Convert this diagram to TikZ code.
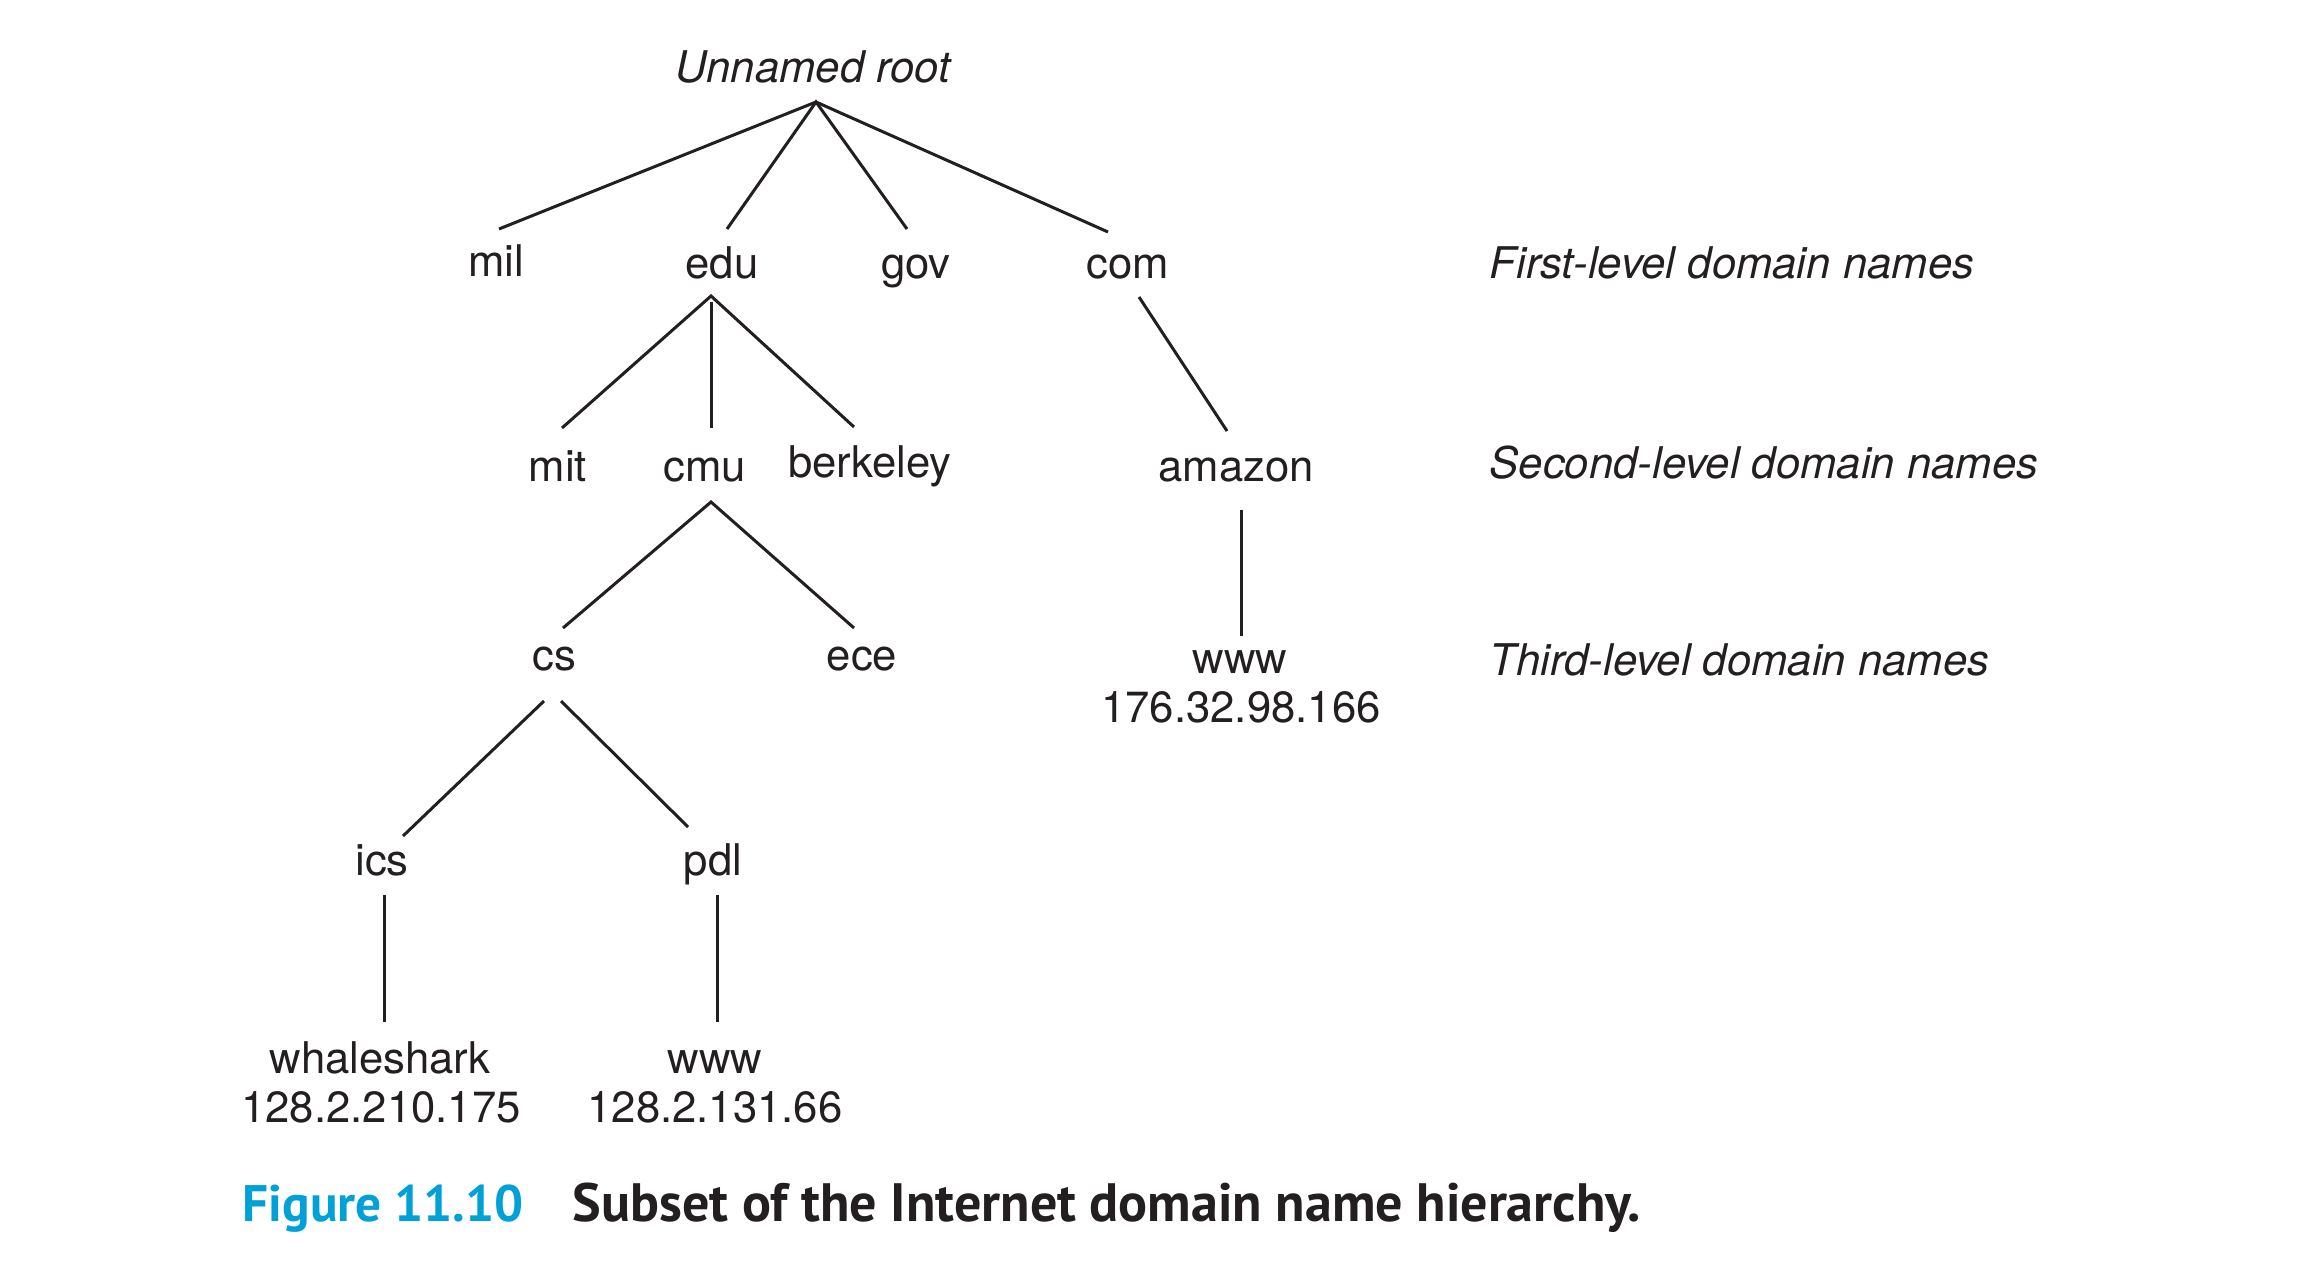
\documentclass[tikz,border=0pt]{standalone}
\usepackage{fontspec}
\setmainfont{TeX Gyre Heros}
\newfontfamily\capfont{PT Sans}
\definecolor{ink}{HTML}{231F20}
\definecolor{figcyan}{RGB}{0,161,214}
\begin{document}
\begin{tikzpicture}[x=0.3pt,y=-0.3pt,
  lbl/.style={anchor=base,inner sep=0pt,text=ink,font=\fontsize{13.1}{15}\selectfont},
  lvl/.style={anchor=base west,inner sep=0pt,text=ink,font=\fontsize{13.1}{15}\selectfont\itshape},
  edge/.style={draw=ink,line width=0.9pt},
  captxt/.style={anchor=base west,inner sep=0pt,font=\capfont\bfseries\fontsize{15.4}{18}\selectfont}]
\useasboundingbox[fill=white] (0,0) rectangle (2322,1286);
% nodes
\node[lbl,font=\fontsize{13.1}{15}\selectfont\itshape] (root) at (813,83) {Unnamed root};
\node[lbl] (mil) at (496,277) {mil};
\node[lbl] (edu) at (722,279) {edu};
\node[lbl] (gov) at (916,279) {gov};
\node[lbl] (com) at (1128,279) {com};
\node[lvl] (first) at (1489,279) {First-level domain names};
\node[lbl] (mit) at (558,482) {mit};
\node[lbl] (cmu) at (705,482) {cmu};
\node[lbl] (berkeley) at (870,477) {berkeley};
\node[lbl] (amazon) at (1236,482) {amazon};
\node[lvl] (second) at (1489,479) {Second-level domain names};
\node[lbl] (cs) at (554,670) {cs};
\node[lbl] (ece) at (862,670) {ece};
\node[lbl] (wwwa) at (1240,673) {www};
\node[lbl] (ipa) at (1241,722) {176.32.98.166};
\node[lvl] (third) at (1489,675) {Third-level domain names};
\node[lbl] (ics) at (382,875) {ics};
\node[lbl] (pdl) at (713,875) {pdl};
\node[lbl] (whale) at (380,1073) {whaleshark};
\node[lbl] (ipb) at (381,1122) {128.2.210.175};
\node[lbl] (wwwb) at (715,1073) {www};
\node[lbl] (ipc) at (715,1122) {128.2.131.66};
\node[captxt,text=figcyan] (fig) at (242,1221) {Figure 11.10};
\node[captxt,text=ink,font=\capfont\bfseries\fontsize{16.2}{18}\selectfont] (title) at (572,1221) {Subset of the Internet domain name hierarchy.};
% connectors
\draw[edge] ([shift={(3,-48)}]mil.base) -- ([shift={(3,19)}]root.base) -- ([shift={(-20,-47)}]com.base);
\draw[edge] ([shift={(5,-50)}]edu.base) -- ([shift={(3,19)}]root.base) -- ([shift={(-9,-50)}]gov.base);
\draw[edge] ([shift={(4,-54)}]mit.base) -- ([shift={(-11,17)}]edu.base) -- ([shift={(-16,-50)}]berkeley.base);
\draw[edge] ([shift={(-11,23)}]edu.base) -- ([shift={(6,-54)}]cmu.base);
\draw[edge] ([shift={(11,18)}]com.base) -- ([shift={(-9,-51)}]amazon.base);
\draw[edge] ([shift={(9,-42)}]cs.base) -- ([shift={(6,20)}]cmu.base) -- ([shift={(-8,-42)}]ece.base);
\draw[edge] ([shift={(5,28)}]amazon.base) -- ([shift={(1,-37)}]wwwa.base);
\draw[edge] ([shift={(-10,31)}]cs.base) -- ([shift={(21,-39)}]ics.base);
\draw[edge] ([shift={(7,31)}]cs.base) -- ([shift={(-25,-48)}]pdl.base);
\draw[edge] ([shift={(2,20)}]ics.base) -- ([shift={(4,-51)}]whale.base);
\draw[edge] ([shift={(4,20)}]pdl.base) -- ([shift={(2,-51)}]wwwb.base);
\end{tikzpicture}
\end{document}
